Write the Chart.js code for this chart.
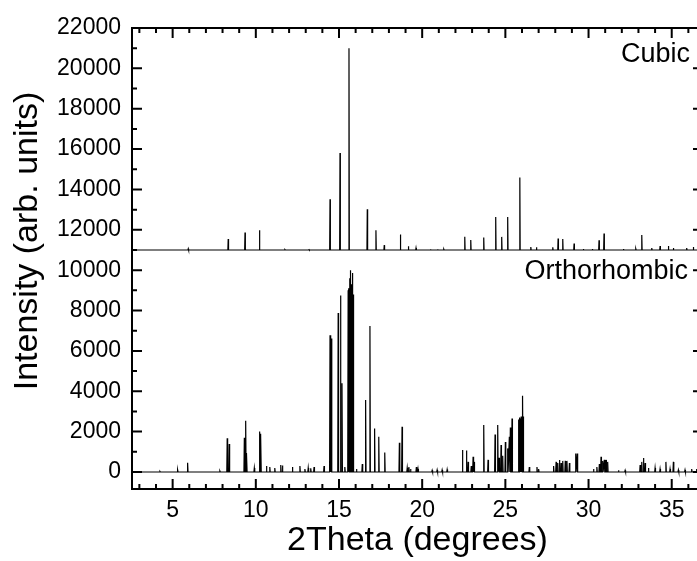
<!DOCTYPE html>
<html>
<head>
<meta charset="utf-8">
<script src="https://cdn.jsdelivr.net/npm/chart.js@4.4.1/dist/chart.umd.min.js"></script>
<style>
  html, body { margin: 0; padding: 0; background: #fff; overflow: hidden; }
  canvas { display: block; }
</style>
</head>
<body>
<canvas id="xrd" width="704" height="561"></canvas>
<script>
// peak positions (2theta, degrees) and plotted intensities
const cubicBase = 11000;
const cubicPos = [5.94, 8.34, 9.35, 10.22, 11.75, 13.2, 14.46, 15.06, 15.60, 16.70, 17.22, 17.72, 18.69, 19.17, 19.63,
  20.50, 20.93, 21.30, 22.56, 22.92, 23.70, 24.42, 24.78, 25.14, 25.87, 26.53, 26.87, 27.85, 28.17, 28.45,
  29.13, 29.69, 30.23, 30.63, 30.93, 32.10, 32.84, 33.20, 33.80, 34.30, 34.80, 35.10, 35.90, 36.30];
const cubicInt = [11060, 11540, 11870, 11980, 11020, 11020, 13510, 15800, 21000, 13020, 11980, 11240, 11770, 11190, 11100,
  11040, 11040, 11040, 11660, 11490, 11620, 12640, 11650, 12640, 14590, 11150, 11130, 11130, 11570, 11550,
  11320, 11050, 11050, 11480, 11820, 11050, 11060, 11740, 11100, 11200, 11200, 11100, 11100, 11150];

const orthoBase = 0;
const orthoPos = [4.24, 5.30, 5.90, 7.84, 8.28, 8.40, 9.31, 9.39, 9.45, 9.91, 10.23, 10.30, 10.64, 10.84, 11.14,
  11.50, 11.60, 12.20, 12.65, 12.95, 13.15, 13.30, 13.50, 14.10, 14.46, 14.54, 14.95, 15.09, 15.18, 15.35,
  15.55, 15.60, 15.66, 15.70, 15.76, 15.80, 15.85, 16.05, 16.40, 16.60, 16.86, 17.14, 17.39, 17.75, 18.63,
  18.79, 19.10, 19.20, 19.30, 19.65, 19.75, 20.60, 20.90, 21.20, 21.50, 22.42, 22.66, 22.76, 22.95, 23.06,
  23.12, 23.70, 23.96, 24.38, 24.54, 24.62, 24.74, 24.84, 25.00, 25.14, 25.24, 25.30, 25.40, 25.80, 25.85,
  25.90, 25.95, 26.00, 26.04, 26.09, 26.44, 26.90, 27.00, 27.90, 28.05, 28.15, 28.25, 28.35, 28.45, 28.60,
  28.70, 28.85, 29.23, 29.32, 30.30, 30.50, 30.65, 30.75, 30.85, 30.95, 31.05, 31.15, 31.80, 32.20, 33.10,
  33.20, 33.30, 33.40, 33.60, 34.00, 34.30, 34.65, 34.90, 35.10, 35.40, 35.80, 36.20, 36.50];
const orthoInt = [30, 100, 460, 50, 1670, 1390, 1700, 2540, 940, 200, 2000, 1900, 300, 250, 200,
  350, 320, 250, 300, 150, 200, 180, 250, 300, 6780, 6620, 7880, 8740, 4400, 250,
  9000, 9100, 9600, 10000, 9300, 9860, 8800, 150, 400, 3570, 7230, 2160, 1750, 960, 1450,
  2240, 200, 250, 150, 250, 150, 80, 100, 100, 120, 1090, 1060, 500, 300, 760,
  500, 2330, 600, 1860, 2330, 700, 1340, 800, 1490, 1170, 1750, 2210, 2650, 2600, 2700,
  2650, 2750, 2700, 3780, 2750, 250, 250, 150, 300, 500, 450, 600, 450, 550, 550,
  550, 450, 920, 920, 150, 250, 400, 760, 550, 600, 600, 500, 80, 80, 350,
  500, 690, 450, 200, 200, 150, 500, 150, 500, 100, 100, 150, 150];

const xRange = [2.557, 36.88];
const yRange = [-843, 22000];
const xTickLabels = [5, 10, 15, 20, 25, 30, 35];
const yTickLabels = [0, 2000, 4000, 6000, 8000, 10000, 12000, 14000, 16000, 18000, 20000, 22000];

// stick-like profile: each peak is a narrow spike on the baseline
function profile(pos, inten, base, w) {
  const pts = [{ x: xRange[0], y: base }];
  pos.forEach((p, i) => {
    pts.push({ x: p - w, y: base }, { x: p, y: inten[i] }, { x: p + w, y: base });
  });
  pts.push({ x: xRange[1], y: base });
  return pts.sort((a, b) => a.x - b.x);
}

const FONT = "'Liberation Sans', Arial, sans-serif";

const framePlugin = {
  id: 'frame',
  afterDraw(chart) {
    const { ctx, chartArea: a, scales: { x, y } } = chart;
    ctx.save();
    ctx.strokeStyle = '#000';
    ctx.lineWidth = 2;
    ctx.strokeRect(a.left, a.top, a.right - a.left, a.bottom - a.top);
    ctx.beginPath();
    for (let v = 3; v <= 36; v++) {
      const px = x.getPixelForValue(v);
      const len = v % 5 === 0 ? 10 : 5;
      ctx.moveTo(px, a.bottom); ctx.lineTo(px, a.bottom - len);
      ctx.moveTo(px, a.top); ctx.lineTo(px, a.top + len);
    }
    for (let v = 0; v <= 22000; v += 1000) {
      const py = y.getPixelForValue(v);
      const len = v % 2000 === 0 ? 10 : 5;
      ctx.moveTo(a.left, py); ctx.lineTo(a.left + len, py);
      ctx.moveTo(a.right, py); ctx.lineTo(a.right - len, py);
    }
    ctx.stroke();

    // y title and pattern labels
    ctx.fillStyle = '#000';
    ctx.font = '34px ' + FONT;
    ctx.translate(28, 241);
    ctx.rotate(-Math.PI / 2);
    ctx.textAlign = 'center';
    ctx.textBaseline = 'middle';
    ctx.fillText('Intensity (arb. units)', 0, 0);
    ctx.setTransform(1, 0, 0, 1, 0, 0);
    ctx.font = '27px ' + FONT;
    ctx.textAlign = 'right';
    ctx.textBaseline = 'alphabetic';
    ctx.fillText('Cubic', 690, 62);
    ctx.fillText('Orthorhombic', 688, 279);
    ctx.restore();
  }
};

new Chart(document.getElementById('xrd'), {
  type: 'scatter',
  data: {
    datasets: [
      { label: 'Cubic', data: profile(cubicPos, cubicInt, cubicBase, 0.02) },
      { label: 'Orthorhombic', data: profile(orthoPos, orthoInt, orthoBase, 0.025) }
    ]
  },
  options: {
    responsive: false,
    animation: false,
    showLine: true,
    layout: { padding: { top: 28, right: 1, left: 0, bottom: 0 } },
    elements: {
      point: { radius: 0 },
      line: { borderWidth: 1.2, borderColor: '#000', tension: 0 }
    },
    datasets: { scatter: { borderColor: '#000', borderWidth: 1.2, pointRadius: 0 } },
    plugins: { legend: { display: false }, tooltip: { enabled: false } },
    scales: {
      x: {
        type: 'linear',
        min: xRange[0],
        max: xRange[1],
        grid: { display: false, drawTicks: false },
        border: { display: false },
        ticks: { color: '#000', font: { family: FONT, size: 23 }, padding: 8, callback: v => String(v) },
        afterBuildTicks: s => { s.ticks = xTickLabels.map(v => ({ value: v })); },
        afterFit: s => { s.height = 72; },
        title: {
          display: true,
          text: '2Theta (degrees)',
          color: '#000',
          font: { family: FONT, size: 34 },
          padding: 0
        }
      },
      y: {
        min: yRange[0],
        max: yRange[1],
        grid: { display: false, drawTicks: false },
        border: { display: false },
        ticks: { color: '#000', font: { family: FONT, size: 23 }, padding: 11, callback: v => String(v) },
        afterBuildTicks: s => { s.ticks = yTickLabels.map(v => ({ value: v })); },
        afterFit: s => { s.width = 132; }
      }
    }
  },
  plugins: [framePlugin]
});
</script>
</body>
</html>
